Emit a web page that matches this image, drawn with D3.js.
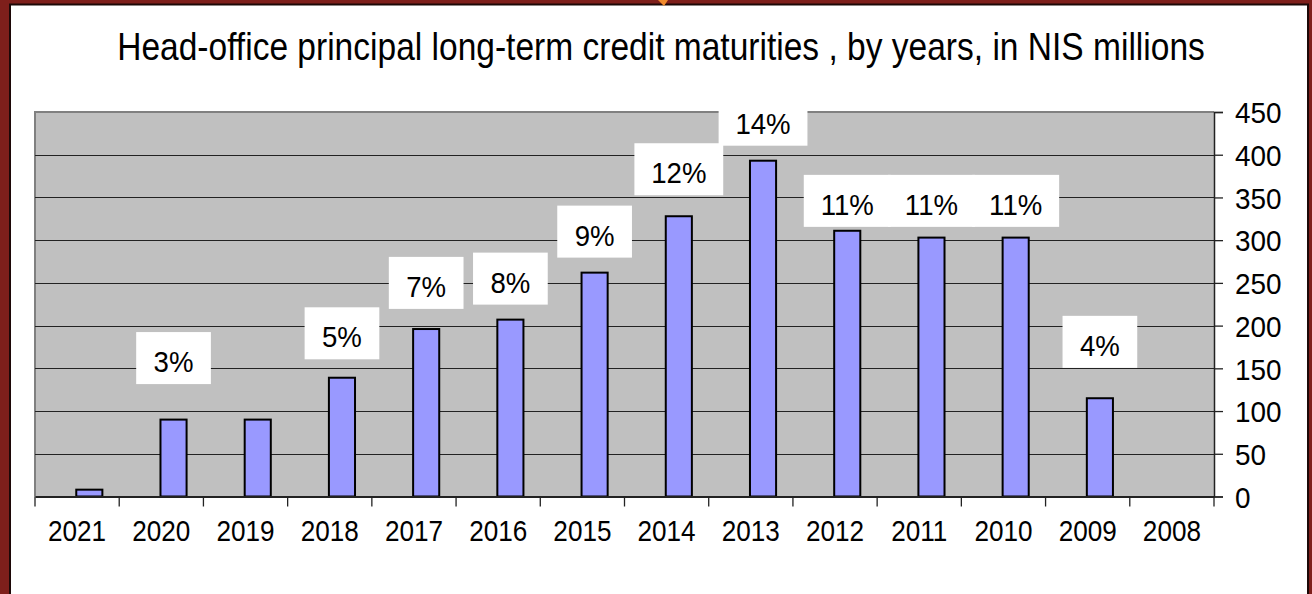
<!DOCTYPE html>
<html>
<head>
    <title>Head-office principal long-term credit maturities</title>
    <script src="https://d3js.org/d3.v7.min.js"></script>
    <style>
        body {
            margin: 0;
            background: #7e1f1b;
            font-family: "Liberation Sans", Arial, sans-serif;
        }
    </style>
</head>
<body>
    <svg id="chart" width="1312" height="594"></svg>
    <script>
        // data
        const years = ["2021", "2020", "2019", "2018", "2017", "2016", "2015", "2014", "2013", "2012", "2011", "2010", "2009", "2008"];
        const maturities = [8, 90, 90, 139, 196, 207, 262, 328, 393, 311, 303, 303, 115, 0];
        const shareLabels = [null, "3%", null, "5%", "7%", "8%", "9%", "12%", "14%", "11%", "11%", "11%", "4%", null];
        // where each share label box sits, in NIS millions on the value axis
        const labelLevels = [null, 162, null, 191, 250, 255, 310, 383, 441, 346, 346, 346, 181, null];
        const yTicks = [0, 50, 100, 150, 200, 250, 300, 350, 400, 450];
        const title = "Head-office principal long-term credit maturities , by years, in NIS millions";

        const W = 1312, H = 594;
        const plot = { left: 35, right: 1214, top: 112, bottom: 496.5 };

        const svg = d3.select("#chart");

        // squeeze text a little, the original font is narrower than Arial
        function squeeze(sel, k) {
            sel.each(function () {
                const len = this.getComputedTextLength();
                d3.select(this).attr("textLength", len * k).attr("lengthAdjust", "spacingAndGlyphs");
            });
        }

        // slide frame
        svg.append("rect").attr("x", 0).attr("y", 0).attr("width", W).attr("height", H).attr("fill", "#7e1f1b");
        svg.append("rect").attr("x", 10).attr("y", 4.5).attr("width", 1298).attr("height", 600)
            .attr("fill", "#fff").attr("stroke", "#1c0807").attr("stroke-width", 2);
        svg.append("path").attr("d", "M658,0 L668,0 L664,6 Z").attr("fill", "#f08a2c");

        // title, drawn condensed like the original
        const t = svg.append("text")
            .attr("text-anchor", "middle")
            .style("font-size", "38px")
            .attr("fill", "#000")
            .text(title);
        const tw = t.node().getComputedTextLength();
        t.attr("transform", `translate(661,60) scale(${1088 / tw},1)`);

        const x = d3.scaleBand().domain(years).range([plot.left, plot.right]).padding(0);
        const y = d3.scaleLinear().domain([0, 450]).range([plot.bottom, plot.top]);

        // plot area
        svg.append("rect")
            .attr("x", plot.left).attr("y", plot.top)
            .attr("width", plot.right - plot.left).attr("height", plot.bottom - plot.top)
            .attr("fill", "#c0c0c0");
        svg.append("path")
            .attr("d", `M${plot.left},${plot.bottom} V${plot.top} H${plot.right}`)
            .attr("fill", "none").attr("stroke", "#808080").attr("stroke-width", 2);

        // gridlines
        svg.append("g").selectAll("line")
            .data(yTicks.filter(v => v > 0 && v < 450))
            .enter().append("line")
            .attr("x1", plot.left).attr("x2", plot.right)
            .attr("y1", d => Math.round(y(d)) + 0.5).attr("y2", d => Math.round(y(d)) + 0.5)
            .attr("stroke", "#222").attr("stroke-width", 1.2);

        // bars
        const bw = x.bandwidth();
        svg.append("g").selectAll("rect")
            .data(years.map((yr, i) => ({ yr, v: maturities[i] })).filter(d => d.v > 0))
            .enter().append("rect")
            .attr("x", d => x(d.yr) + bw * 0.49)
            .attr("width", bw * 0.31)
            .attr("y", d => y(d.v))
            .attr("height", d => y(0) - y(d.v))
            .attr("fill", "#9999ff")
            .attr("stroke", "#000").attr("stroke-width", 2);

        // category axis: ticks at band edges, labels under the bands
        const xAxis = svg.append("g")
            .attr("transform", `translate(0,${plot.bottom})`)
            .call(d3.axisBottom(x).tickSize(0).tickPadding(44));
        xAxis.select(".domain").attr("stroke", "#222").attr("stroke-width", 2);
        xAxis.selectAll("text")
            .style("font-size", "30px").style("font-family", "Liberation Sans, Arial, sans-serif")
            .attr("fill", "#000").attr("dy", 0);
        xAxis.selectAll("text").call(squeeze, 0.87);
        svg.append("g").selectAll("line")
            .data(years.map(d => x(d)).concat([plot.right]))
            .enter().append("line")
            .attr("x1", d => d).attr("x2", d => d)
            .attr("y1", plot.bottom).attr("y2", plot.bottom + 10)
            .attr("stroke", "#222").attr("stroke-width", 1.3);

        // value axis on the right
        const yAxis = svg.append("g")
            .attr("transform", `translate(${plot.right},0)`)
            .call(d3.axisRight(y).tickValues(yTicks).tickSize(9).tickPadding(12));
        yAxis.select(".domain").attr("stroke", "#222").attr("stroke-width", 1.5);
        yAxis.selectAll(".tick line").attr("stroke", "#222").attr("stroke-width", 1.3);
        yAxis.selectAll("text")
            .style("font-size", "30px").style("font-family", "Liberation Sans, Arial, sans-serif")
            .attr("fill", "#000").attr("dy", "0.36em");
        yAxis.selectAll("text").call(squeeze, 0.93);

        // share labels in white boxes
        const labels = years.map((yr, i) => ({ yr, txt: shareLabels[i], lvl: labelLevels[i] }))
            .filter(d => d.txt);
        const lg = svg.append("g").selectAll("g")
            .data(labels)
            .enter().append("g")
            .attr("transform", d => `translate(${x(d.yr) + bw * 0.645},${y(d.lvl)})`);
        lg.append("rect").attr("fill", "#fff");
        const lt = lg.append("text")
            .attr("text-anchor", "middle")
            .attr("y", 14)
            .style("font-size", "30px")
            .attr("fill", "#000")
            .text(d => d.txt);
        lt.call(squeeze, 0.92);
        lt.each(function () {
            const w = this.getComputedTextLength() * 0.92 + 38;
            d3.select(this.parentNode).select("rect")
                .attr("x", -w / 2).attr("y", -26).attr("width", w).attr("height", 52);
        });
    </script>
</body>
</html>
